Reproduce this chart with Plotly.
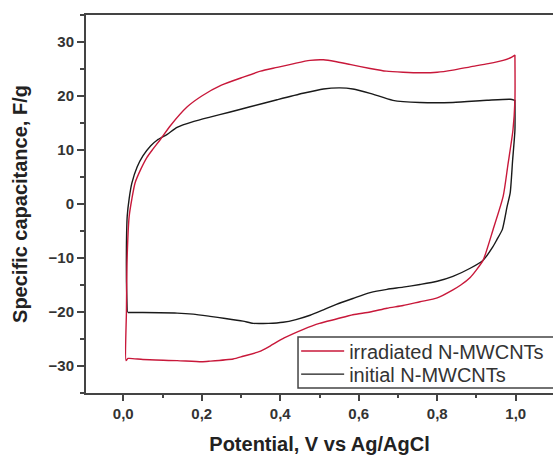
import plotly.graph_objects as go

# Cyclic voltammetry, specific capacitance vs potential (V vs Ag/AgCl)
# Irradiated N-MWCNTs: anodic (forward) sweep, then cathodic (reverse) sweep
irr_fwd_x = [0.007, 0.008, 0.0097, 0.015, 0.022, 0.030, 0.045, 0.060, 0.076, 0.094,
             0.120, 0.163, 0.200, 0.250, 0.306, 0.350, 0.392, 0.440, 0.476, 0.510,
             0.540, 0.580, 0.629, 0.670, 0.713, 0.760, 0.800, 0.840, 0.884, 0.930,
             0.968, 0.990, 0.998]
irr_fwd_y = [-29.0, -20.0, -10.3, -2.3, 1.0, 3.9, 6.5, 8.6, 10.2, 11.9,
             14.5, 18.0, 20.0, 22.0, 23.5, 24.6, 25.3, 26.1, 26.6, 26.7,
             26.4, 25.8, 25.1, 24.6, 24.4, 24.3, 24.4, 24.8, 25.4, 26.0,
             26.6, 27.2, 27.6]
irr_rev_x = [0.998, 0.998, 0.993, 0.980, 0.968, 0.942, 0.917, 0.900, 0.884, 0.860,
             0.840, 0.800, 0.756, 0.713, 0.672, 0.629, 0.585, 0.543, 0.500, 0.459,
             0.410, 0.374, 0.348, 0.305, 0.280, 0.221, 0.200, 0.137, 0.050, 0.012,
             0.007]
irr_rev_y = [27.6, 19.2, 13.7, 7.2, 1.4, -4.8, -10.4, -12.2, -13.6, -15.0,
             -15.9, -17.4, -18.1, -18.8, -19.3, -20.0, -20.5, -21.3, -22.1, -23.2,
             -24.8, -26.3, -27.3, -28.2, -28.7, -29.1, -29.2, -29.0, -28.8, -28.6,
             -29.0]

# Initial N-MWCNTs
ini_fwd_x = [0.010, 0.008, 0.008, 0.010, 0.015, 0.022, 0.035, 0.050, 0.070, 0.086,
             0.112, 0.137, 0.180, 0.221, 0.270, 0.323, 0.392, 0.458, 0.510, 0.552,
             0.585, 0.629, 0.687, 0.756, 0.840, 0.927, 0.986, 0.998]
ini_fwd_y = [-20.1, -14.0, -8.0, -2.3, 1.0, 3.9, 6.8, 8.9, 10.8, 11.8,
             12.9, 14.2, 15.3, 16.1, 17.0, 18.0, 19.3, 20.5, 21.3, 21.5,
             21.3, 20.5, 19.2, 18.8, 18.8, 19.2, 19.4, 19.2]
ini_rev_x = [0.998, 0.998, 0.992, 0.986, 0.978, 0.966, 0.952, 0.942, 0.917, 0.884,
             0.840, 0.800, 0.756, 0.713, 0.672, 0.629, 0.585, 0.543, 0.510, 0.476,
             0.440, 0.407, 0.370, 0.331, 0.305, 0.260, 0.221, 0.178, 0.137, 0.050,
             0.012]
ini_rev_y = [19.2, 13.7, 8.0, 2.1, -0.5, -4.7, -6.6, -7.9, -10.4, -11.9,
             -13.4, -14.3, -14.9, -15.4, -15.8, -16.4, -17.5, -18.6, -19.6, -20.6,
             -21.4, -21.9, -22.1, -22.1, -21.7, -21.2, -20.8, -20.4, -20.2, -20.1,
             -20.1]

series_names = ["irradiated N-MWCNTs", "initial N-MWCNTs"]
series_colors = ["#c8183a", "#1a1a1a"]

FONT = "Arial, Liberation Sans, Helvetica, sans-serif"
AXIS_COLOR = "#444444"

fig = go.Figure()

fig.add_trace(go.Scatter(
    x=ini_fwd_x + ini_rev_x, y=ini_fwd_y + ini_rev_y,
    mode="lines", name=series_names[1], legend="legend2",
    line=dict(color=series_colors[1], width=1.4, shape="spline", smoothing=0.6),
))
fig.add_trace(go.Scatter(
    x=irr_fwd_x + irr_rev_x, y=irr_fwd_y + irr_rev_y,
    mode="lines", name=series_names[0], legend="legend",
    line=dict(color=series_colors[0], width=1.4, shape="spline", smoothing=0.6),
))

# Legend frame (open on the right, runs past the plot edge)
fig.add_shape(type="rect", xref="paper", yref="paper",
              x0=0.454, x1=1.05, y0=0.013, y1=0.148,
              line=dict(color=AXIS_COLOR, width=1.5), fillcolor="rgba(0,0,0,0)")

legend_style = dict(
    xanchor="left", yanchor="middle",
    bgcolor="rgba(0,0,0,0)", borderwidth=0, itemwidth=43,
    font=dict(family=FONT, size=20, color="#333333"),
)

fig.update_layout(
    width=553, height=455,
    margin=dict(l=86, r=0, t=15, b=62),
    paper_bgcolor="white", plot_bgcolor="white",
    separators=", ",
    font=dict(family=FONT, color="#222222"),
    showlegend=True,
    legend=dict(x=0.45, y=0.111, **legend_style),
    legend2=dict(x=0.45, y=0.050, **legend_style),
    xaxis=dict(
        range=[-0.095, 1.095],
        tick0=0, dtick=0.2, tickformat=".1f",
        ticks="outside", ticklen=6, tickwidth=1.5, tickcolor=AXIS_COLOR,
        minor=dict(dtick=0.1, ticks="outside", ticklen=3, tickwidth=1.5,
                   tickcolor=AXIS_COLOR),
        showline=True, linecolor=AXIS_COLOR, linewidth=2, mirror=True,
        showgrid=False, zeroline=False,
        tickfont=dict(family=FONT, size=15, color="#333333", weight="bold"),
        title=dict(text="Potential, V vs Ag/AgCl", standoff=18,
                   font=dict(family=FONT, size=20, color="#222222", weight="bold")),
    ),
    yaxis=dict(
        range=[-35, 35],
        tick0=0, dtick=10,
        ticks="outside", ticklen=7, tickwidth=1.5, tickcolor=AXIS_COLOR,
        minor=dict(dtick=5, ticks="outside", ticklen=4, tickwidth=1.5,
                   tickcolor=AXIS_COLOR),
        showline=True, linecolor=AXIS_COLOR, linewidth=2,
        showgrid=False, zeroline=False,
        tickfont=dict(family=FONT, size=15, color="#333333", weight="bold"),
        title=dict(text="Specific capacitance, F/g", standoff=16,
                   font=dict(family=FONT, size=20, color="#222222", weight="bold")),
    ),
)

fig.write_html("out.html")
